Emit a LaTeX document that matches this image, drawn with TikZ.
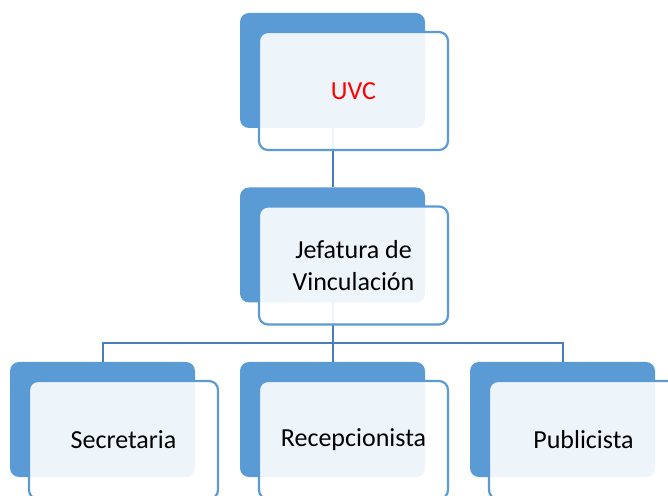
\documentclass[tikz,border=0pt]{standalone}
\usepackage{fontspec}
\setmainfont{Carlito}
\usetikzlibrary{positioning}
\definecolor{azul}{HTML}{5B9BD5}
\definecolor{azullinha}{HTML}{4A7EBB}
\begin{document}
\begin{tikzpicture}[x=1pt,y=1pt,
  fundo/.style={fill=azul, rounded corners=9pt, minimum width=185pt,
    minimum height=115pt, inner sep=0pt, outer sep=0pt},
  frente/.style={draw=azul, line width=2.2pt, fill=white, fill opacity=0.9,
    text opacity=1, rounded corners=9pt, minimum width=189pt,
    minimum height=118pt, align=center, xshift=21pt, yshift=-20.5pt,
    font=\fontsize{26}{31.5}\selectfont},
  conector/.style={draw=azullinha, line width=2pt}]
  \useasboundingbox (0,0) rectangle (668,495);
  \clip (0,0) rectangle (668,495);
  % Caixas de fundo
  \node[fundo] (uvcF) at (332.5,424.5) {};
  \node[fundo] (jefF) at (332.5,250) {};
  \node[fundo] (secF) at (102.5,75.5) {};
  \node[fundo] (recF) at (332.5,75.5) {};
  \node[fundo] (pubF) at (562.5,75.5) {};
  % Ligacoes
  \coordinate (barra) at (332.5,152);
  \draw[conector] (uvcF.south) -- (jefF.north);
  \draw[conector] (jefF.south) -- (barra);
  \draw[conector] (secF.north) |- (barra) -| (pubF.north);
  \draw[conector] (barra) -- (recF.north);
  % Caixas da frente
  \node[frente, text=red] (uvc) at (uvcF) {UVC};
  \node[frente] (jef) at (jefF) {Jefatura de\\Vinculación};
  \node[frente] (sec) at (secF) {Secretaria};
  \node[frente] (rec) at (recF) {Recepcionista};
  \node[frente] (pub) at (pubF) {Publicista};
\end{tikzpicture}
\end{document}
